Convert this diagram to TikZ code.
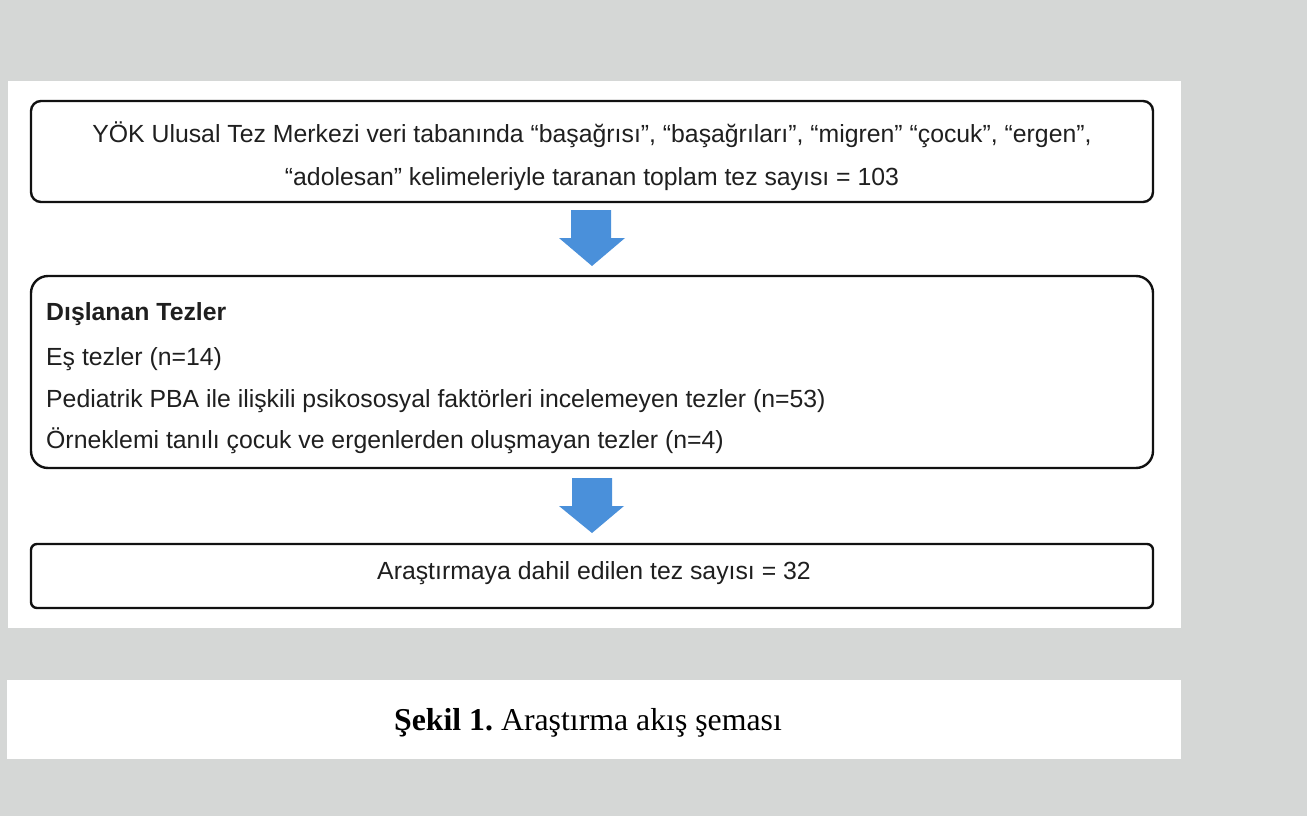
\documentclass[tikz,border=0pt]{standalone}
\usepackage{fontspec}
\setmainfont{Liberation Sans}
\newfontfamily\capfont{Liberation Serif}
\definecolor{bggray}{RGB}{213,215,214}
\definecolor{arrowblue}{RGB}{74,144,218}
\definecolor{boxline}{RGB}{17,17,17}
\tikzset{
  flowbox/.style={draw=boxline, line width=2.4pt, fill=white},
  mtext/.style={font=\fontsize{24.8}{29}\selectfont, text=black!88, inner sep=0pt},
  captext/.style={font=\capfont\fontsize{31.8}{36}\selectfont\frenchspacing, text=black, inner sep=0pt},
  bigarrow/.style={fill=arrowblue, draw=none}
}
\begin{document}
\begin{tikzpicture}[x=1pt,y=-1pt]
\useasboundingbox (0,0) rectangle (1307,816);
\fill[bggray] (0,0) rectangle (1307,816);
\fill[white] (8,81) rectangle (1181,628);
\fill[white] (7,680) rectangle (1181,759);
% boxes
\draw[flowbox, rounded corners=10pt] (31,101) rectangle (1153,202);
\draw[flowbox, rounded corners=17pt] (31,276) rectangle (1153,468);
\draw[flowbox, rounded corners=6pt] (31,544) rectangle (1153,608);
% texts
\node[mtext, anchor=base] (t1a) at (592,142) {YÖK Ulusal Tez Merkezi veri tabanında “başağrısı”, “başağrıları”, “migren” “çocuk”, “ergen”,};
\node[mtext, anchor=base] (t1b) at (592,185) {“adolesan” kelimeleriyle taranan toplam tez sayısı = 103};
\node[mtext, anchor=base west] (t2a) at (46,320) {\bfseries Dışlanan Tezler};
\node[mtext, anchor=base west] (t2b) at (46,365) {Eş tezler (n=14)};
\node[mtext, anchor=base west] (t2c) at (46,407) {Pediatrik PBA ile ilişkili psikososyal faktörleri incelemeyen tezler (n=53)};
\node[mtext, anchor=base west] (t2d) at (46,448) {Örneklemi tanılı çocuk ve ergenlerden oluşmayan tezler (n=4)};
\node[mtext, anchor=base] (t3) at (594,579) {Araştırmaya dahil edilen tez sayısı = 32};
% arrows
\fill[bigarrow] (571,210) -- (611,210) -- (611,238) -- (625,238) -- (592,266) -- (559,238) -- (571,238) -- cycle;
\fill[bigarrow] (572,478) -- (612,478) -- (612,506) -- (624,506) -- (592,533) -- (559,506) -- (572,506) -- cycle;
% caption
\node[captext, anchor=base] (cap) at (588,730) {{\bfseries Şekil 1.} Araştırma akış şeması};
\end{tikzpicture}
\end{document}
